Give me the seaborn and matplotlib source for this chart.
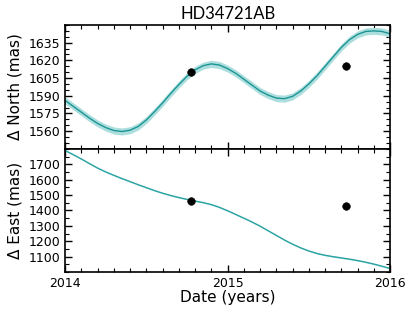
import numpy as np
import pandas as pd
import matplotlib
matplotlib.use("Agg")
import matplotlib.pyplot as plt
import seaborn as sns
from matplotlib.ticker import MultipleLocator

# orbit prediction (every 0.05 yr)
epoch = [2014.00, 2014.05, 2014.10, 2014.15, 2014.20, 2014.25, 2014.30, 2014.35,
         2014.40, 2014.45, 2014.50, 2014.55, 2014.60, 2014.65, 2014.70, 2014.75,
         2014.80, 2014.85, 2014.90, 2014.95, 2015.00, 2015.05, 2015.10, 2015.15,
         2015.20, 2015.25, 2015.30, 2015.35, 2015.40, 2015.45, 2015.50, 2015.55,
         2015.60, 2015.65, 2015.70, 2015.75, 2015.80, 2015.85, 2015.90, 2015.95,
         2016.00]
north = [1586, 1581, 1576, 1571, 1566.5, 1563, 1560.5, 1559.7,
         1560.8, 1564, 1569.5, 1576.5, 1584, 1592, 1599.5, 1606.5,
         1612, 1615.5, 1617, 1616, 1613, 1609, 1604, 1599,
         1594, 1590.5, 1588, 1587.5, 1589.5, 1594, 1600, 1607,
         1615, 1623, 1631, 1637.5, 1642, 1644.5, 1645, 1644.5,
         1642.5]
east = [1789, 1762, 1734, 1704, 1675, 1650, 1628, 1607,
        1587, 1567, 1548, 1529, 1512, 1497, 1484, 1472,
        1461, 1451, 1438, 1420, 1398, 1374, 1350, 1325,
        1298, 1268, 1238, 1208, 1181, 1157, 1137, 1121,
        1109, 1100, 1092, 1084, 1075, 1064, 1052, 1038,
        1023]
north_unc = 3.0   # half-width of the shaded band (mas)
east_unc = 4.0

# measured astrometry
obs_epoch = [2014.775, 2015.73]
obs_north = [1610, 1615.5]
obs_east = [1460, 1430]

model = pd.DataFrame({"epoch": epoch, "north": north, "east": east})
obs = pd.DataFrame({"epoch": obs_epoch, "north": obs_north, "east": obs_east})

sns.set_style("ticks", {"axes.edgecolor": "black", "xtick.color": "black",
                        "ytick.color": "black", "text.color": "black",
                        "axes.labelcolor": "black"})
plt.rcParams["font.family"] = ["DejaVu Sans"]

line_c = "#1b9494"
band_c = "#addede"

fig = plt.figure(figsize=(4.15, 3.12), dpi=100)
ax1 = fig.add_axes([0.157, 0.523, 0.783, 0.397])
ax2 = fig.add_axes([0.157, 0.128, 0.783, 0.395], sharex=ax1)

ax1.fill_between(model["epoch"], model["north"] - north_unc, model["north"] + north_unc,
                 color=band_c, lw=0)
sns.lineplot(data=model, x="epoch", y="north", ax=ax1, color=line_c, lw=1.0)
sns.scatterplot(data=obs, x="epoch", y="north", ax=ax1, color="black", s=30, edgecolor="black", zorder=5)

ax2.fill_between(model["epoch"], model["east"] - east_unc, model["east"] + east_unc,
                 color=band_c, lw=0)
sns.lineplot(data=model, x="epoch", y="east", ax=ax2, color="#2aa3a3", lw=1.0)
sns.scatterplot(data=obs, x="epoch", y="east", ax=ax2, color="black", s=30, edgecolor="black", zorder=5)

ax1.set_xlim(2014, 2016)
ax1.set_ylim(1545, 1650)
ax2.set_ylim(1000, 1800)

ax1.set_yticks([1560, 1575, 1590, 1605, 1620, 1635])
ax1.yaxis.set_minor_locator(MultipleLocator(5))
ax2.set_yticks([1100, 1200, 1300, 1400, 1500, 1600, 1700])
ax2.yaxis.set_minor_locator(MultipleLocator(50))
ax2.set_xticks([2014, 2015, 2016])
ax2.xaxis.set_minor_locator(MultipleLocator(0.1))

for ax in (ax1, ax2):
    ax.tick_params(which="both", direction="in", top=True, right=True, labelsize=9)
    ax.tick_params(which="major", length=5, width=1)
    ax.tick_params(which="minor", length=3, width=0.8)
    for s in ax.spines.values():
        s.set_linewidth(1.2)
ax1.tick_params(labelbottom=False)

ax1.set_xlabel("")
ax1.set_ylabel("Δ North (mas)", fontsize=11)
ax2.set_ylabel("Δ East (mas)", fontsize=11)
ax2.set_xlabel("Date (years)", fontsize=11, labelpad=0)
ax1.set_title("HD34721AB", fontsize=12, family=["Lato", "DejaVu Sans"], pad=4)

fig.savefig("out.png", dpi=100)
